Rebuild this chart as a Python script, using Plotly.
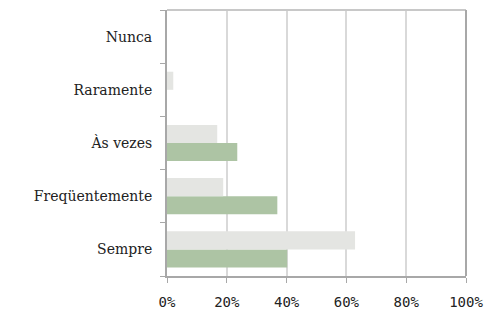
import plotly.graph_objects as go

categories = ["Sempre", "Freqüentemente", "Às vezes", "Raramente", "Nunca"]
serie_verde = [40.2, 36.9, 23.5, 0, 0]
serie_cinza = [62.9, 18.8, 16.8, 2.1, 0]
x_ticks = [0, 20, 40, 60, 80, 100]
x_tick_labels = ["0%", "20%", "40%", "60%", "80%", "100%"]

fig = go.Figure()
fig.add_trace(go.Bar(y=categories, x=serie_verde, orientation="h",
                     marker=dict(color="#adc4a4", line=dict(width=0)), name="A"))
fig.add_trace(go.Bar(y=categories, x=serie_cinza, orientation="h",
                     marker=dict(color="#e4e5e2", line=dict(width=0)), name="B"))

fig.update_layout(
    width=488, height=309,
    margin=dict(l=167, r=22, t=10, b=33, autoexpand=False),
    barmode="group", bargap=0.32, bargroupgap=0,
    showlegend=False,
    plot_bgcolor="white", paper_bgcolor="white",
    font=dict(family="DejaVu Serif", size=13, color="#222222"),
    shapes=[
        dict(type="line", xref="paper", yref="paper", x0=0, x1=1, y0=1, y1=1,
             line=dict(color="#c8c8c8", width=2)),
        dict(type="line", xref="paper", yref="paper", x0=1, x1=1, y0=0, y1=1,
             line=dict(color="#a8a8a8", width=2)),
    ],
)
fig.update_xaxes(range=[0, 100], tickvals=x_ticks, ticktext=x_tick_labels,
                 showgrid=True, gridcolor="#d9d9d9", gridwidth=1.5,
                 showline=True, linecolor="#a8a8a8", linewidth=2,
                 ticks="outside", ticklen=5, tickcolor="#a8a8a8",
                 ticklabelstandoff=7, automargin=False,
                 tickfont=dict(family="DejaVu Sans Mono", size=14, color="#222222"),
                 zeroline=False, fixedrange=True)
fig.update_yaxes(showline=True, linecolor="#a8a8a8", linewidth=2,
                 ticks="outside", ticklen=5, tickcolor="#a8a8a8",
                 tickson="boundaries", showgrid=False, automargin=False,
                 ticklabelstandoff=10,
                 tickfont=dict(family="DejaVu Serif", size=14, color="#222222"),
                 fixedrange=True)

fig.write_html("out.html", config={"displayModeBar": False},
               post_script="document.body.style.margin='0';document.body.style.overflow='hidden';")
